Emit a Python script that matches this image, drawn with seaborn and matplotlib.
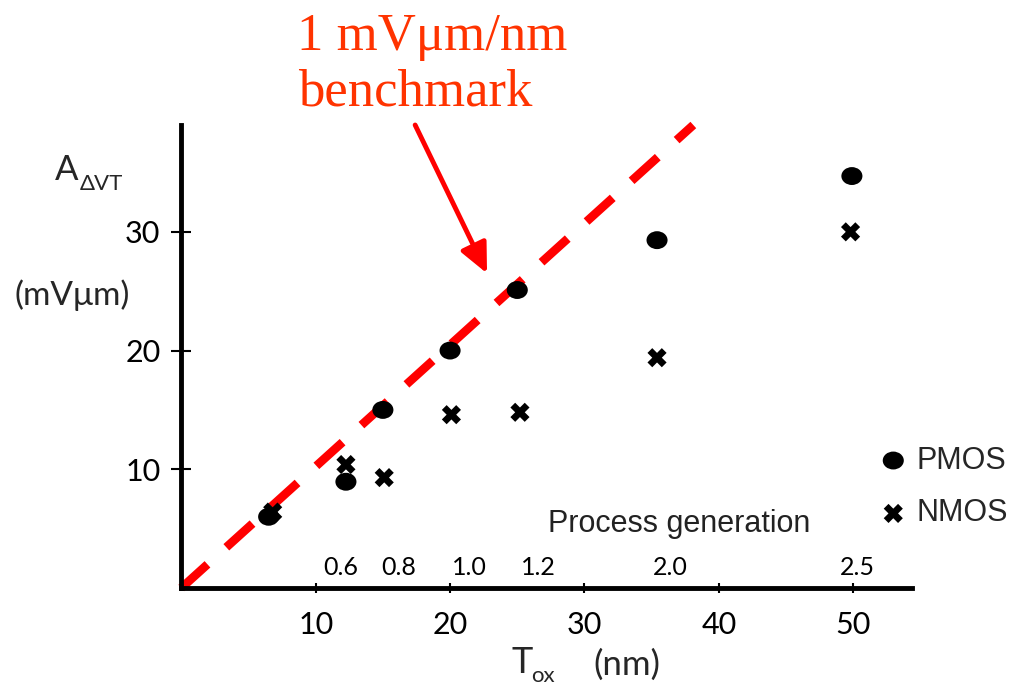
import numpy as np
import pandas as pd
import matplotlib
matplotlib.use("Agg")
import matplotlib.pyplot as plt
import matplotlib.transforms as mtransforms
from matplotlib.path import Path
from matplotlib.font_manager import FontProperties
import seaborn as sns

# ---------------- data ----------------
tox_pmos = [6.5, 12.25, 15.0, 20.0, 25.0, 35.4, 49.9]
avt_pmos = [6.0, 8.95, 15.0, 20.0, 25.1, 29.3, 34.7]
tox_nmos = [6.8, 12.25, 15.1, 20.1, 25.2, 35.4, 49.8]
avt_nmos = [6.4, 10.4, 9.3, 14.6, 14.8, 19.4, 30.0]

bench_x = [0, 38.1]
bench_y = [0, 39.0]

gen_labels = ["0.6", "0.8", "1.0", "1.2", "2.0", "2.5"]
gen_x = [11.9, 16.2, 21.4, 26.6, 36.4, 50.3]

x_ticks = [10, 20, 30, 40, 50]
y_ticks = [10, 20, 30]

# ---------------- style ----------------
sns.set_style("white")
plt.rcParams["font.family"] = ["Lato", "DejaVu Sans"]
SANS = ["Lato", "DejaVu Sans"]
ARIAL = ["Liberation Sans", "DejaVu Sans"]
SERIF = ["Liberation Serif", "DejaVu Serif"]

fig = plt.figure(figsize=(10.16, 6.86), dpi=100)
fig.patch.set_facecolor("white")
ax = fig.add_axes([181.3 / 1016, 1 - 588 / 686, (911.7 - 181.3) / 1016, (588 - 125) / 686])
ax.set_facecolor("white")

# benchmark line
ax.plot(bench_x, bench_y, color="#ff0000", lw=6.2, linestyle=(0, (4.1, 2.95)),
        dash_capstyle="butt", clip_on=False, zorder=2)

# markers
ell = Path.unit_circle().transformed(mtransforms.Affine2D().scale(1.0, 0.85))
sns.scatterplot(x=tox_pmos, y=avt_pmos, marker=ell, s=230, color="black",
                edgecolor="none", linewidth=0, label="PMOS", ax=ax, zorder=3, clip_on=False)
sns.scatterplot(x=tox_nmos, y=avt_nmos, marker="X", s=190, color="black",
                edgecolor="none", linewidth=0, label="NMOS", ax=ax, zorder=3, clip_on=False)

ax.set_xlim(0, 54.35)
ax.set_ylim(0, 39.0)
ax.set_xticks(x_ticks)
ax.set_yticks(y_ticks)
ax.set_xlabel("")
ax.set_ylabel("")

for s in ["top", "right"]:
    ax.spines[s].set_visible(False)
for s in ["left", "bottom"]:
    ax.spines[s].set_linewidth(3.5)
    ax.spines[s].set_color("black")

ax.tick_params(axis="y", direction="inout", length=14, width=1.5, pad=8,
               labelsize=22, colors="black", left=True)
ax.tick_params(axis="x", direction="inout", length=7, width=1.5, pad=13,
               labelsize=22, colors="black", bottom=True)
for lab in ax.get_xticklabels() + ax.get_yticklabels():
    lab.set_family(SANS)

# process generation
ax.text(27.3, 4.7, "Process generation", fontsize=22, family=ARIAL,
        ha="left", va="baseline", color="#222222")
for gx, gl in zip(gen_x, gen_labels):
    ax.text(gx, 1.1, gl, fontsize=18, family=SANS, ha="center", va="baseline", color="black")

# arrow from title to line
ax.annotate("", xy=(22.75, 26.5), xytext=(17.4, 39.0),
            arrowprops=dict(arrowstyle="-|>,head_length=0.6,head_width=0.28",
                            color="#ff0000", lw=3.5, mutation_scale=30,
                            shrinkA=0, shrinkB=0),
            annotation_clip=False)

# legend
ax.legend(loc="center left", bbox_to_anchor=(878 / 1016, 1 - 487 / 686),
          bbox_transform=fig.transFigure, frameon=False, borderpad=0,
          borderaxespad=0, handlelength=1.0, handletextpad=0.25,
          labelspacing=0.75, prop=FontProperties(family=ARIAL, size=22),
          scatterpoints=1)

# axis labels (as figure texts)
fig.text(55 / 1016, 1 - 180 / 686, "A", fontsize=25, family=SANS, ha="left", va="baseline")
fig.text(80 / 1016, 1 - 190 / 686, "ΔVT", fontsize=16, family=SANS, ha="left", va="baseline")
fig.text(15 / 1016, 1 - 305 / 686, "(mVμm)", fontsize=24, family=SANS, ha="left", va="baseline")

fig.text(512 / 1016, 1 - 673 / 686, "T", fontsize=26, family=SANS, ha="left", va="baseline")
fig.text(531 / 1016, 1 - 682 / 686, "ox", fontsize=16, family=SANS, ha="left", va="baseline")
fig.text(593 / 1016, 1 - 675 / 686, "(nm)", fontsize=25, family=SANS, ha="left", va="baseline")

# title
fig.text(297 / 1016, 1 - 50 / 686, "1 mVμm/nm", fontsize=38, family=SERIF,
         color="#ff3300", ha="left", va="baseline")
fig.text(298 / 1016, 1 - 106 / 686, "benchmark", fontsize=38, family=SERIF,
         color="#ff3300", ha="left", va="baseline")

fig.savefig("out.png", dpi=100, facecolor="white")
